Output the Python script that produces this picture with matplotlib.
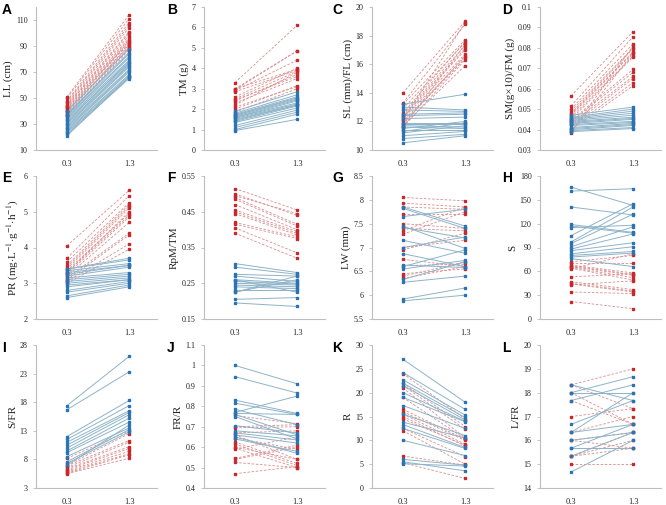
import matplotlib
matplotlib.use("Agg")
import matplotlib.pyplot as plt

plt.rcParams["mathtext.fontset"] = "stix"

x_categories = [0.3, 1.3]
x_labels = ["0.3", "1.3"]

# ---- Panel A: LL (cm)
A_red_03 = [51, 50, 48, 47, 46, 45, 44, 44, 43, 42, 42, 41, 40, 40, 39, 38, 37, 36]
A_red_13 = [114, 111, 108, 106, 104, 101, 100, 98, 96, 95, 93, 92, 90, 94, 89, 91, 88, 87]
A_blue_03 = [40, 38, 37, 36, 35, 34, 33, 32, 31, 30, 29, 28, 27, 26, 25, 24, 23, 22, 21]
A_blue_13 = [88, 85, 84, 82, 81, 79, 77, 78, 76, 75, 74, 72, 71, 70, 68, 67, 66, 65, 66]
A_yticks = [10, 30, 50, 70, 90, 110]

# ---- Panel B: TM (g)
B_red_03 = [3.3, 3.0, 2.95, 2.9, 3.0, 2.85, 2.6, 2.5, 2.4, 2.45, 2.3, 2.2, 2.1, 2.0, 1.85]
B_red_13 = [6.1, 4.85, 4.85, 4.4, 3.95, 3.9, 4.0, 3.85, 3.7, 3.6, 3.5, 3.8, 3.1, 3.15, 3.0]
B_blue_03 = [1.9, 1.8, 1.75, 1.7, 1.7, 1.65, 1.6, 1.6, 1.55, 1.5, 1.45, 1.4, 1.35, 1.2, 1.1, 1.0, 0.95]
B_blue_13 = [2.85, 2.7, 2.6, 2.55, 2.5, 2.45, 2.4, 2.3, 2.25, 2.2, 2.2, 2.15, 2.05, 1.95, 1.85, 1.75, 1.5]
B_yticks = [0, 1, 2, 3, 4, 5, 6, 7]

# ---- Panel C: SL (mm)/FL (cm)
C_red_03 = [14.0, 13.3, 13.2, 12.9, 12.6, 12.5, 12.4, 12.3, 12.2, 12.0, 11.9, 11.8, 11.7, 11.6, 12.1, 11.6]
C_red_13 = [19.0, 18.8, 17.7, 17.5, 17.6, 17.3, 17.1, 17.0, 16.7, 16.5, 16.4, 16.6, 15.9, 17.4, 18.9, 16.3]
C_blue_03 = [13.2, 13.0, 12.8, 12.5, 12.4, 12.2, 11.9, 11.8, 11.7, 11.6, 11.4, 11.3, 11.2, 11.0, 10.8, 10.5, 11.5]
C_blue_13 = [13.9, 12.8, 12.7, 12.6, 12.5, 12.3, 11.9, 11.8, 11.6, 11.5, 11.4, 11.9, 11.7, 11.3, 11.1, 11.0, 12.0]
C_yticks = [10, 12, 14, 16, 18, 20]

# ---- Panel D: SM(g×10)/FM (g)
D_red_03 = [0.0565, 0.0515, 0.050, 0.049, 0.048, 0.0475, 0.047, 0.046, 0.045, 0.0445, 0.044, 0.043, 0.042, 0.041, 0.040, 0.039, 0.0385]
D_red_13 = [0.088, 0.0855, 0.082, 0.080, 0.0795, 0.078, 0.0775, 0.076, 0.0755, 0.0695, 0.068, 0.066, 0.065, 0.063, 0.0615, 0.081, 0.0775]
D_blue_03 = [0.047, 0.046, 0.0455, 0.045, 0.0445, 0.044, 0.0435, 0.043, 0.0425, 0.042, 0.041, 0.0405, 0.040, 0.0395, 0.039]
D_blue_13 = [0.051, 0.050, 0.049, 0.048, 0.047, 0.046, 0.0455, 0.045, 0.044, 0.0435, 0.043, 0.0425, 0.042, 0.041, 0.0405]
D_yticks = [0.03, 0.04, 0.05, 0.06, 0.07, 0.08, 0.09, 0.1]

# ---- Panel E: PR
E_red_03 = [4.05, 3.7, 3.6, 3.5, 3.45, 3.4, 3.35, 3.3, 3.25, 3.2, 3.15, 3.1, 3.05, 3.0, 3.3]
E_red_13 = [5.6, 5.45, 5.25, 5.2, 5.15, 5.1, 4.95, 4.9, 4.85, 4.7, 4.4, 4.35, 4.1, 3.95, 5.0]
E_blue_03 = [3.4, 3.4, 3.35, 3.3, 3.25, 3.2, 3.15, 3.1, 3.05, 3.0, 2.95, 2.9, 2.8, 2.75, 2.65, 2.6]
E_blue_13 = [3.7, 3.65, 3.55, 3.5, 3.5, 3.45, 3.3, 3.25, 3.2, 3.15, 3.1, 3.1, 3.05, 3.0, 2.95, 2.9]
E_yticks = [2, 3, 4, 5, 6]

# ---- Panel F: RpM/TM
F_red_03 = [0.515, 0.50, 0.495, 0.49, 0.485, 0.47, 0.455, 0.45, 0.445, 0.42, 0.415, 0.405, 0.39]
F_red_13 = [0.455, 0.44, 0.445, 0.415, 0.41, 0.40, 0.395, 0.39, 0.385, 0.38, 0.375, 0.335, 0.32]
F_blue_03 = [0.305, 0.295, 0.275, 0.27, 0.26, 0.255, 0.25, 0.245, 0.24, 0.23, 0.225, 0.225, 0.205, 0.195, 0.26]
F_blue_13 = [0.28, 0.275, 0.27, 0.255, 0.25, 0.248, 0.245, 0.24, 0.235, 0.23, 0.26, 0.27, 0.21, 0.185, 0.225]
F_yticks = [0.15, 0.25, 0.35, 0.45, 0.55]

# ---- Panel G: LW (mm)
G_red_03 = [8.05, 7.93, 7.85, 7.7, 7.5, 7.4, 7.35, 7.28, 7.0, 6.95, 6.75, 6.62, 6.45, 6.4, 6.35]
G_red_13 = [7.98, 7.85, 7.8, 7.7, 7.4, 7.35, 7.85, 7.75, 7.15, 7.3, 6.6, 6.65, 6.55, 6.7, 6.6]
G_blue_03 = [7.85, 7.82, 7.65, 7.45, 7.42, 7.15, 7.0, 6.87, 6.63, 6.6, 6.55, 6.33, 6.27, 5.92, 5.88]
G_blue_13 = [7.45, 7.4, 7.8, 6.98, 7.2, 6.88, 7.22, 6.6, 6.58, 6.95, 6.73, 6.7, 6.4, 6.15, 6.0]
G_yticks = [5.5, 6, 6.5, 7, 7.5, 8, 8.5]

# ---- Panel H: S
H_red_03 = [72, 70, 68, 67, 66, 65, 64, 53, 47, 45, 44, 43, 34, 22, 63]
H_red_13 = [80, 70, 58, 56, 55, 52, 49, 57, 37, 35, 34, 48, 32, 13, 82]
H_blue_03 = [166, 161, 141, 119, 117, 115, 105, 97, 95, 91, 88, 86, 82, 80, 78, 76]
H_blue_13 = [143, 164, 131, 109, 108, 118, 145, 141, 132, 116, 107, 96, 91, 85, 83, 66]
H_yticks = [0, 30, 60, 90, 120, 150, 180]

# ---- Panel I: S/FR
I_red_03 = [8.2, 7.0, 6.9, 6.6, 6.4, 6.2, 6.0, 5.8, 5.6, 5.5]
I_red_13 = [13.0, 12.5, 11.3, 11.0, 10.2, 9.9, 9.4, 9.0, 8.8, 8.2]
I_blue_03 = [17.4, 16.7, 12.0, 11.5, 11.0, 10.5, 10.0, 9.5, 9.2, 8.5, 7.6, 7.3, 7.0]
I_blue_13 = [26.0, 23.3, 18.3, 17.4, 16.5, 16.2, 15.8, 15.2, 14.5, 13.5, 13.2, 12.8, 14.0]
I_yticks = [3, 8, 13, 18, 23, 28]

# ---- Panel J: FR/R
J_red_03 = [0.755, 0.70, 0.695, 0.67, 0.66, 0.645, 0.625, 0.615, 0.60, 0.595, 0.545, 0.54, 0.525, 0.47, 0.59]
J_red_13 = [0.715, 0.71, 0.70, 0.68, 0.54, 0.59, 0.52, 0.51, 0.54, 0.50, 0.61, 0.60, 0.50, 0.505, 0.65]
J_blue_03 = [1.0, 0.945, 0.83, 0.815, 0.785, 0.77, 0.765, 0.76, 0.75, 0.705, 0.68, 0.67, 0.66, 0.65, 0.64]
J_blue_13 = [0.91, 0.865, 0.765, 0.76, 0.71, 0.85, 0.76, 0.66, 0.64, 0.67, 0.655, 0.635, 0.62, 0.57, 0.58]
J_yticks = [0.4, 0.5, 0.6, 0.7, 0.8, 0.9, 1.0, 1.1]

# ---- Panel K: R
K_red_03 = [24, 22, 21.5, 21, 19, 16.5, 16, 15.5, 15, 14.5, 12.5, 12, 6.7, 5.3]
K_red_13 = [14.5, 12.9, 12.3, 10.5, 10.3, 10.2, 10.0, 9.2, 8.8, 9.0, 6.6, 5.0, 4.8, 2.0]
K_blue_03 = [27, 24.2, 22.7, 22, 21.5, 20, 19, 17.3, 15.5, 13.8, 13.3, 12.5, 10, 6, 5.5, 5.1]
K_blue_13 = [18, 16.5, 15.3, 14.8, 14.3, 14, 13.9, 12.5, 11.0, 10.5, 8.5, 8.3, 6.8, 4.8, 3.6, 4.6]
K_yticks = [0, 5, 10, 15, 20, 25, 30]

# ---- Panel L: L/FR
L_red_03 = [18.33, 18.0, 17.67, 17.0, 16.33, 16.0, 15.33, 15.33, 15.0, 15.33, 16.0, 18.33]
L_red_13 = [19.0, 16.67, 16.67, 17.33, 17.0, 16.33, 15.67, 16.0, 15.0, 16.33, 15.67, 17.33]
L_blue_03 = [18.0, 18.0, 18.33, 17.67, 16.67, 16.33, 16.0, 15.67, 15.67, 15.33, 14.67, 16.33]
L_blue_13 = [18.67, 18.0, 17.67, 18.33, 17.67, 16.67, 16.33, 16.67, 15.67, 16.33, 16.0, 18.0]
L_yticks = [14, 15, 16, 17, 18, 19, 20]

panel_letters = ["A", "B", "C", "D", "E", "F", "G", "H", "I", "J", "K", "L"]
y_titles = ["LL (cm)", "TM (g)", "SL (mm)/FL (cm)", "SM(g\u00d710)/FM (g)",
            r"PR (mg$\cdot$L$^{-1}$$\cdot$g$^{-1}$$\cdot$h$^{-1}$)", "RpM/TM", "LW (mm)", "S",
            "S/FR", "FR/R", "R", "L/FR"]

panels = [
    (A_red_03, A_red_13, A_blue_03, A_blue_13, A_yticks, (10, 120)),
    (B_red_03, B_red_13, B_blue_03, B_blue_13, B_yticks, (0, 7)),
    (C_red_03, C_red_13, C_blue_03, C_blue_13, C_yticks, (10, 20)),
    (D_red_03, D_red_13, D_blue_03, D_blue_13, D_yticks, (0.03, 0.1)),
    (E_red_03, E_red_13, E_blue_03, E_blue_13, E_yticks, (2, 6)),
    (F_red_03, F_red_13, F_blue_03, F_blue_13, F_yticks, (0.15, 0.55)),
    (G_red_03, G_red_13, G_blue_03, G_blue_13, G_yticks, (5.5, 8.5)),
    (H_red_03, H_red_13, H_blue_03, H_blue_13, H_yticks, (0, 180)),
    (I_red_03, I_red_13, I_blue_03, I_blue_13, I_yticks, (3, 28)),
    (J_red_03, J_red_13, J_blue_03, J_blue_13, J_yticks, (0.4, 1.1)),
    (K_red_03, K_red_13, K_blue_03, K_blue_13, K_yticks, (0, 30)),
    (L_red_03, L_red_13, L_blue_03, L_blue_13, L_yticks, (14, 20)),
]

RED_M = "#c8282c"
RED_L = "#d98c8c"
BLUE_M = "#2b73b3"
BLUE_L = "#8db3c9"
SERIF = ["Liberation Serif", "DejaVu Serif"]

W, H = 666, 505
fig = plt.figure(figsize=(6.66, 5.05), dpi=100)

col_left = [36, 204, 372, 540]
row_top = [7, 176, 345]
ax_w = 121
ax_h = 143
letter_x = [2, 167, 332, 502]
letter_y = [3, 171, 341]


def fmt(v):
    s = ("%.2f" % v).rstrip("0").rstrip(".")
    return s


for i, (r0, r1, b0, b1, yt, ylim) in enumerate(panels):
    row, col = divmod(i, 4)
    left = col_left[col] / W
    bottom = 1 - (row_top[row] + ax_h) / H
    ax = fig.add_axes([left, bottom, ax_w / W, ax_h / H])
    for a, b in zip(r0, r1):
        ax.plot(x_categories, [a, b], color=RED_L, lw=0.6, ls=(0, (3, 2)), zorder=2)
        ax.plot(x_categories, [a, b], ls="none", marker="s", ms=2.0, color=RED_M, zorder=3)
    for a, b in zip(b0, b1):
        ax.plot(x_categories, [a, b], color=BLUE_L, lw=0.7, ls="-", zorder=2)
        ax.plot(x_categories, [a, b], ls="none", marker="s", ms=2.0, color=BLUE_M, zorder=3)
    ax.set_xlim(-0.2, 1.75)
    ax.set_ylim(*ylim)
    ax.set_yticks(yt)
    ax.set_yticklabels([fmt(v) for v in yt], fontfamily=SERIF, fontsize=5.8)
    ax.set_xticks(x_categories)
    ax.set_xticklabels(x_labels, fontfamily=SERIF, fontsize=6)
    for s in ["top", "right"]:
        ax.spines[s].set_visible(False)
    for s in ["left", "bottom"]:
        ax.spines[s].set_color("#bdbdbd")
        ax.spines[s].set_linewidth(0.8)
    ax.tick_params(axis="both", length=2, width=0.6, color="#bdbdbd", labelcolor="#222222")
    ax.tick_params(axis="y", pad=4)
    ax.tick_params(axis="x", length=0, pad=7)
    ax.set_ylabel(y_titles[i], fontfamily=SERIF, fontsize=8, color="#222222", labelpad=2)
    fig.text(letter_x[col] / W, 1 - letter_y[row] / H, panel_letters[i],
             fontfamily=["Liberation Sans", "DejaVu Sans"], fontweight="bold",
             fontsize=10, va="top", ha="left")

fig.savefig("out.png", dpi=100)
